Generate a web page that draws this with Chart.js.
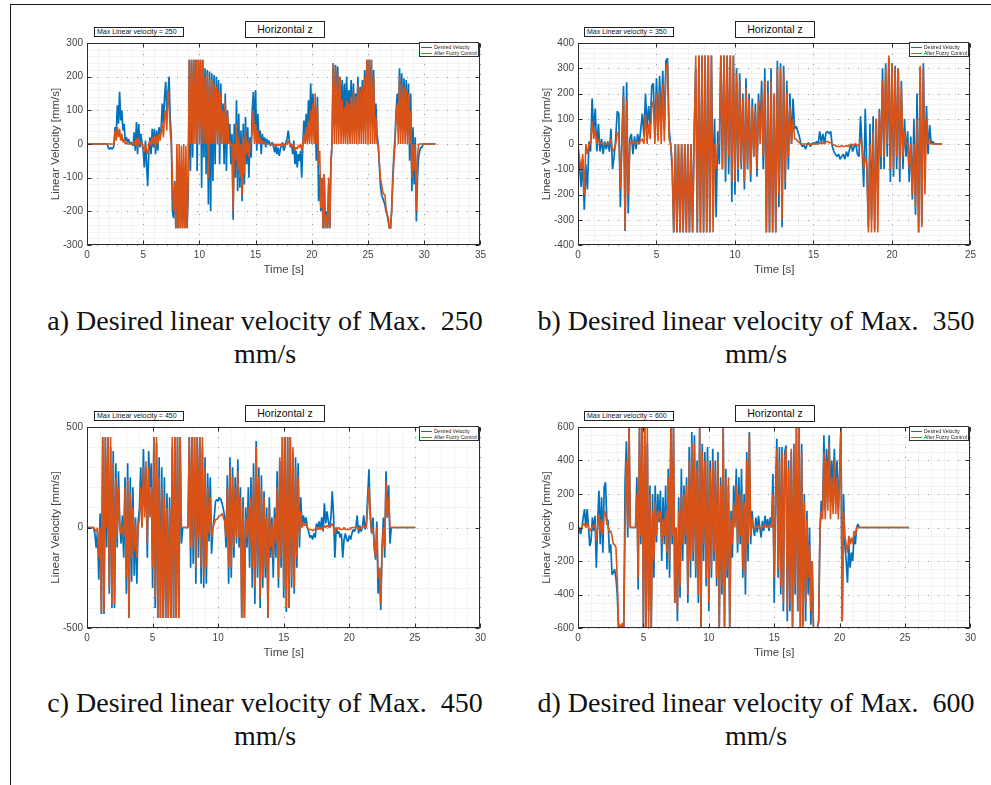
<!DOCTYPE html>
<html><head><meta charset="utf-8">
<script src="https://cdn.jsdelivr.net/npm/chart.js@4.4.1/dist/chart.umd.min.js"></script>
<style>
html,body{margin:0;padding:0;background:#fff;}
body{width:991px;height:785px;position:relative;overflow:hidden;font-family:'Liberation Sans',Arial,sans-serif;}
.frameTop{position:absolute;left:10px;top:4px;width:981px;height:1px;background:#1a1a1a;}
.frameLeft{position:absolute;left:10px;top:4px;width:1px;height:781px;background:#1a1a1a;}
canvas{position:absolute;}
.ttl{position:absolute;width:78px;height:15px;border:1px solid #222;font-size:10.5px;line-height:15px;text-align:center;color:#111;background:#fff;}
.maxb{position:absolute;width:86px;height:8px;border:1px solid #222;font-size:7px;line-height:8px;padding-left:2px;color:#111;background:#fff;white-space:nowrap;}
.leg{position:absolute;width:58px;height:13px;border:1px solid #333;background:#fff;font-size:5px;color:#222;}
.leg div{position:absolute;left:14px;white-space:nowrap;line-height:6px;}
.leg span{position:absolute;left:1px;width:11px;height:1px;}
.cap{position:absolute;width:460px;font-family:'Liberation Serif','Times New Roman',serif;font-size:28px;line-height:33px;text-align:center;color:#111;white-space:nowrap;}
</style>
</head><body>
<div class="frameTop"></div><div class="frameLeft"></div>

<canvas id="cA" width="455" height="248" style="left:35px;top:33px"></canvas>
<canvas id="cB" width="454" height="248" style="left:526px;top:33px"></canvas>
<canvas id="cC" width="455" height="247" style="left:35px;top:417px"></canvas>
<canvas id="cD" width="454" height="247" style="left:526px;top:417px"></canvas>

<div class="ttl" style="left:245px;top:21px">Horizontal z</div>
<div class="ttl" style="left:735px;top:21px">Horizontal z</div>
<div class="ttl" style="left:245px;top:405px">Horizontal z</div>
<div class="ttl" style="left:735px;top:405px">Horizontal z</div>

<div class="maxb" style="left:94px;top:27px">Max Linear velocity = 250</div>
<div class="maxb" style="left:584px;top:27px">Max Linear velocity = 350</div>
<div class="maxb" style="left:94px;top:411px">Max Linear velocity = 450</div>
<div class="maxb" style="left:584px;top:411px">Max Linear velocity = 600</div>

<div class="leg" style="left:419px;top:42px"><span style="top:4px;background:#0072BD"></span><div style="top:1px">Desired Velocity</div><span style="top:10px;background:#D95319"></span><div style="top:7px">After Fuzzy Control</div></div>
<div class="leg" style="left:909px;top:42px"><span style="top:4px;background:#0072BD"></span><div style="top:1px">Desired Velocity</div><span style="top:10px;background:#D95319"></span><div style="top:7px">After Fuzzy Control</div></div>
<div class="leg" style="left:419px;top:426px"><span style="top:4px;background:#0072BD"></span><div style="top:1px">Desired Velocity</div><span style="top:10px;background:#D95319"></span><div style="top:7px">After Fuzzy Control</div></div>
<div class="leg" style="left:909px;top:426px"><span style="top:4px;background:#0072BD"></span><div style="top:1px">Desired Velocity</div><span style="top:10px;background:#D95319"></span><div style="top:7px">After Fuzzy Control</div></div>

<div class="cap" style="left:35px;top:304px">a) Desired linear velocity of Max.&nbsp; 250<br>mm/s</div>
<div class="cap" style="left:526px;top:304px">b) Desired linear velocity of Max.&nbsp; 350<br>mm/s</div>
<div class="cap" style="left:35px;top:686px">c) Desired linear velocity of Max.&nbsp; 450<br>mm/s</div>
<div class="cap" style="left:526px;top:686px">d) Desired linear velocity of Max.&nbsp; 600<br>mm/s</div>

<script>
// ---------------- Panel a (max 250) ----------------
const timeA = [0,
1.0,1.1,1.2,1.3,1.4,1.5,1.6,1.7,1.8,1.9,
2.0,2.1,2.2,2.3,2.4,2.5,2.6,2.7,2.8,2.9,
3.0,3.1,3.2,3.3,3.4,3.5,3.6,3.7,3.8,3.9,
4.0,4.1,4.2,4.3,4.4,4.5,4.6,4.7,4.8,4.9,
5.0,5.1,5.2,5.3,5.4,5.5,5.6,5.7,5.8,5.9,
6.0,6.1,6.2,6.3,6.4,6.5,6.6,6.7,6.8,6.9,
7.0,7.1,7.2,7.3,7.4,7.5,7.6,7.7,7.8,7.9,
8.0,8.1,8.2,8.3,8.4,8.5,8.6,8.7,8.8,8.9,
9.0,9.1,9.2,9.3,9.4,9.5,9.6,9.7,9.8,9.9,
10.0,10.1,10.2,10.3,10.4,10.5,10.6,10.7,10.8,10.9,
11.0,11.1,11.2,11.3,11.4,11.5,11.6,11.7,11.8,11.9,
12.0,12.1,12.2,12.3,12.4,12.5,12.6,12.7,12.8,12.9,
13.0,13.1,13.2,13.3,13.4,13.5,13.6,13.7,13.8,13.9,
14.0,14.1,14.2,14.3,14.4,14.5,14.6,14.7,14.8,14.9,
15.0,15.1,15.2,15.3,15.4,15.5,15.6,15.7,15.8,15.9,
16.0,16.1,16.2,16.3,16.4,16.5,16.6,16.7,16.8,16.9,
17.0,17.1,17.2,17.3,17.4,17.5,17.6,17.7,17.8,17.9,
18.0,18.1,18.2,18.3,18.4,18.5,18.6,18.7,18.8,18.9,
19.0,19.1,19.2,19.3,19.4,19.5,19.6,19.7,19.8,19.9,
20.0,20.1,20.2,20.3,20.4,20.5,20.6,20.7,20.8,20.9,
21.0,21.1,21.2,21.3,21.4,21.5,21.6,21.7,21.8,21.9,
22.0,22.1,22.2,22.3,22.4,22.5,22.6,22.7,22.8,22.9,
23.0,23.1,23.2,23.3,23.4,23.5,23.6,23.7,23.8,23.9,
24.0,24.1,24.2,24.3,24.4,24.5,24.6,24.7,24.8,24.9,
25.0,25.1,25.2,25.3,25.4,25.5,25.6,25.7,25.8,25.9,
26.0,26.1,26.2,26.3,26.4,26.5,26.6,26.7,26.8,26.9,
27.0,27.1,27.2,27.3,27.4,27.5,27.6,27.7,27.8,27.9,
28.0,28.1,28.2,28.3,28.4,28.5,28.6,28.7,28.8,28.9,
29.0,29.1,29.2,29.3,29.4,29.5,29.6,29.7,29.8,29.9,
30.0,31.0];
const desiredA = [0,
0,0,0,0,0,0,0,0,0,-12,
-15,-10,-15,-12,-5,50,30,115,60,155,
70,100,40,60,10,20,5,15,0,5,
0,-5,35,-20,65,-30,60,-10,30,0,
-20,-70,10,-60,-125,-20,20,-30,45,-10,
45,-30,40,-20,50,20,50,120,60,140,
185,90,150,200,80,20,-200,-220,-110,-250,
-100,-250,-60,-250,-100,-250,-90,-250,-130,-250,
-150,250,-80,250,-40,250,60,250,-80,250,
100,250,-130,250,-40,225,-90,220,-180,215,
-200,210,-110,205,-60,200,50,190,-60,180,
30,120,-60,150,-80,100,0,60,-60,30,
-225,60,-100,130,-140,90,-130,40,-170,60,
-120,80,-60,50,-100,20,-40,100,155,30,
160,-20,90,10,40,-30,30,0,20,-10,
15,0,10,-5,0,5,-10,-25,-5,-30,
-10,-35,-15,-5,5,-20,-10,5,15,40,
10,-10,0,-30,10,-60,-20,-70,-30,-50,
-20,-100,0,70,20,90,10,130,30,180,
60,150,40,100,-50,140,-170,-90,-200,-100,
-250,-90,-250,-200,-250,-120,-250,-60,0,240,
60,235,100,230,120,200,90,190,60,180,
70,200,50,160,80,190,40,180,70,150,
100,200,60,170,90,190,50,220,80,250,
60,250,100,250,70,220,40,120,30,0,
-60,-120,-150,-160,-170,-180,-200,-210,-230,-250,
-250,-200,-100,-30,20,100,150,70,225,60,
210,50,195,40,190,30,180,-50,150,-140,
50,-120,20,-230,-100,-40,-20,-10,-10,0,
0,0];
const fuzzyA = [0,
0,0,0,0,0,0,0,0,0,0,
0,0,0,0,0,40,10,50,20,45,
10,30,5,15,0,5,0,0,0,0,
0,0,10,-5,15,-10,20,0,5,0,
-10,-25,0,-20,-30,0,10,-5,20,0,
25,-10,25,0,30,10,35,60,20,80,
100,40,160,120,40,0,-100,-200,-120,-250,
0,-250,0,-250,-5,-250,0,-250,-5,-250,
-100,250,0,250,0,250,0,250,0,250,
0,250,0,250,0,200,0,210,-100,200,
0,190,0,180,0,170,0,160,0,150,
0,100,0,130,0,90,0,10,-5,0,
-200,0,-50,60,-80,20,-100,0,-150,20,
-90,40,-30,10,-40,0,0,40,100,0,
60,0,40,0,20,0,10,0,5,0,
0,0,0,0,0,0,0,-5,0,-5,
0,-5,0,-5,0,-5,0,0,0,10,
0,-5,0,-10,0,-20,-10,-15,-5,-10,
0,-20,0,30,0,50,0,70,0,100,
0,120,0,150,0,110,-60,-20,-190,-100,
-250,-90,-250,-210,-250,-100,-250,-50,0,240,
0,230,0,210,0,200,0,130,0,110,
0,130,0,120,0,140,0,160,0,140,
0,180,0,160,0,170,0,200,0,250,
0,250,0,250,0,200,0,80,0,0,
-50,-100,-120,-140,-150,-150,-190,-210,-220,-250,
-250,-200,-120,-50,0,80,120,0,200,0,
180,0,170,0,160,0,150,0,100,-100,
0,-80,0,-200,-40,0,0,0,0,0,
0,0];

// ---------------- Panel b (max 350) ----------------
const timeB = [
0.0,0.1,0.2,0.3,0.4,0.5,0.6,0.7,0.8,0.9,
1.0,1.1,1.2,1.3,1.4,1.5,1.6,1.7,1.8,1.9,
2.0,2.1,2.2,2.3,2.4,2.5,2.6,2.7,2.8,2.9,
3.0,3.1,3.2,3.3,3.4,3.5,3.6,3.7,3.8,3.9,
4.0,4.1,4.2,4.3,4.4,4.5,4.6,4.7,4.8,4.9,
5.0,5.1,5.2,5.3,5.4,5.5,5.6,5.7,5.8,5.9,
6.0,6.1,6.2,6.3,6.4,6.5,6.6,6.7,6.8,6.9,
7.0,7.1,7.2,7.3,7.4,7.5,7.6,7.7,7.8,7.9,
8.0,8.1,8.2,8.3,8.4,8.5,8.6,8.7,8.8,8.9,
9.0,9.1,9.2,9.3,9.4,9.5,9.6,9.7,9.8,9.9,
10.0,10.1,10.2,10.3,10.4,10.5,10.6,10.7,10.8,10.9,
11.0,11.1,11.2,11.3,11.4,11.5,11.6,11.7,11.8,11.9,
12.0,12.1,12.2,12.3,12.4,12.5,12.6,12.7,12.8,12.9,
13.0,13.1,13.2,13.3,13.4,13.5,13.6,13.7,13.8,13.9,
14.0,14.1,14.2,14.3,14.4,14.5,14.6,14.7,14.8,14.9,
15.0,15.1,15.2,15.3,15.4,15.5,15.6,15.7,15.8,15.9,
16.0,16.1,16.2,16.3,16.4,16.5,16.6,16.7,16.8,16.9,
17.0,17.1,17.2,17.3,17.4,17.5,17.6,17.7,17.8,17.9,
18.0,18.1,18.2,18.3,18.4,18.5,18.6,18.7,18.8,18.9,
19.0,19.1,19.2,19.3,19.4,19.5,19.6,19.7,19.8,19.9,
20.0,20.1,20.2,20.3,20.4,20.5,20.6,20.7,20.8,20.9,
21.0,21.1,21.2,21.3,21.4,21.5,21.6,21.7,21.8,21.9,
22.0,22.1,22.2,22.3,22.4,22.5,22.6,22.7,22.8,22.9,
23.2];
const desiredB = [
-30,-90,-170,-60,-260,-80,-180,10,-30,180,
50,140,-30,80,-30,20,-40,10,-20,10,
-30,60,-100,-50,20,130,120,-250,30,230,
-345,245,-275,20,40,-40,30,-20,40,0,
60,120,30,200,60,150,70,230,240,30,
260,60,270,80,290,60,330,340,60,0,
-100,-350,0,-350,0,-350,0,-350,0,-350,
0,-350,0,-350,50,300,-350,350,-350,350,
-350,350,-350,350,-350,350,-200,100,-290,50,
-80,350,-100,350,-150,350,-120,350,-230,350,
-200,300,-150,280,-100,200,-180,260,-100,200,
-150,180,-50,160,-130,200,50,250,-100,300,
-350,250,-350,300,-350,200,-350,330,-250,320,
-330,310,-180,250,-100,200,0,180,60,70,
50,30,0,-10,-5,-20,0,5,-10,0,
5,0,10,0,50,5,40,0,45,50,
40,50,-10,-30,-40,-50,-40,-60,-50,-40,
-60,-30,-50,-20,0,-30,-10,0,-40,-50,
110,-20,-170,140,-100,-330,80,-300,110,-340,
100,-200,140,-100,300,-100,320,-50,340,-150,
320,-130,310,-100,300,-150,250,-100,100,-50,
50,-150,30,-220,100,-280,200,-350,300,-320,
320,-100,150,-40,75,0,10,0,0,0,
0];
const fuzzyB = [
0,-60,-100,-40,-200,0,-40,0,0,90,
20,60,0,20,0,5,0,0,0,0,
0,20,-30,-20,0,40,50,-180,20,190,
-340,170,-200,0,10,0,10,0,10,0,
15,20,0,120,0,80,20,150,170,0,
200,10,210,0,240,10,300,320,20,0,
-70,-350,0,-350,0,-350,0,-350,0,-350,
0,-350,0,-350,0,350,-350,350,-350,350,
-350,350,-350,350,-350,350,-350,0,-100,0,
0,350,-100,350,-100,350,-50,350,-150,350,
-150,280,-100,250,-80,180,-150,220,-90,180,
-120,150,-50,130,-100,170,0,200,-50,250,
-350,200,-350,250,-350,200,-350,300,-200,300,
-300,280,-150,200,-50,150,0,100,20,20,
10,5,0,0,0,0,0,0,0,0,
0,0,0,0,5,0,5,0,10,10,
5,5,0,-5,-5,-10,-10,-10,-5,-10,
-10,-5,-10,-5,0,-5,0,0,-5,-10,
20,-10,-100,-50,-80,-350,0,-350,50,-350,
100,-350,130,-50,250,-50,300,0,350,-100,
320,-100,300,-50,300,-100,230,-50,50,0,
0,-100,0,-200,0,-250,100,-350,310,-330,
300,-200,100,0,10,0,0,0,0,0,
0];

// ---------------- Panel c (max 450) ----------------
const timeC = [
0.0,0.1,0.2,0.3,0.4,0.5,0.6,0.7,0.8,0.9,
1.0,1.1,1.2,1.3,1.4,1.5,1.6,1.7,1.8,1.9,
2.0,2.1,2.2,2.3,2.4,2.5,2.6,2.7,2.8,2.9,
3.0,3.1,3.2,3.3,3.4,3.5,3.6,3.7,3.8,3.9,
4.0,4.1,4.2,4.3,4.4,4.5,4.6,4.7,4.8,4.9,
5.0,5.1,5.2,5.3,5.4,5.5,5.6,5.7,5.8,5.9,
6.0,6.1,6.2,6.3,6.4,6.5,6.6,6.7,6.8,6.9,
7.0,7.1,7.2,7.3,7.4,7.5,7.6,7.7,7.8,7.9,
8.0,8.1,8.2,8.3,8.4,8.5,8.6,8.7,8.8,8.9,
9.0,9.1,9.2,9.3,9.4,9.5,9.6,9.7,9.8,9.9,
10.0,10.1,10.2,10.3,10.4,10.5,10.6,10.7,10.8,10.9,
11.0,11.1,11.2,11.3,11.4,11.5,11.6,11.7,11.8,11.9,
12.0,12.1,12.2,12.3,12.4,12.5,12.6,12.7,12.8,12.9,
13.0,13.1,13.2,13.3,13.4,13.5,13.6,13.7,13.8,13.9,
14.0,14.1,14.2,14.3,14.4,14.5,14.6,14.7,14.8,14.9,
15.0,15.1,15.2,15.3,15.4,15.5,15.6,15.7,15.8,15.9,
16.0,16.1,16.2,16.3,16.4,16.5,16.6,16.7,16.8,16.9,
17.0,17.1,17.2,17.3,17.4,17.5,17.6,17.7,17.8,17.9,
18.0,18.1,18.2,18.3,18.4,18.5,18.6,18.7,18.8,18.9,
19.0,19.1,19.2,19.3,19.4,19.5,19.6,19.7,19.8,19.9,
20.0,20.1,20.2,20.3,20.4,20.5,20.6,20.7,20.8,20.9,
21.0,21.1,21.2,21.3,21.4,21.5,21.6,21.7,21.8,21.9,
22.0,22.1,22.2,22.3,22.4,22.5,22.6,22.7,22.8,22.9,
23.0,23.1,23.2,25.0];
const desiredC = [
0,0,0,0,0,0,-30,-100,-20,-260,
70,-430,450,-430,450,-100,450,-330,400,-400,
380,-400,320,-100,280,20,-80,60,-150,250,
-330,320,-450,250,-270,200,-240,50,-280,30,
100,300,0,390,100,250,-150,380,200,320,
-300,450,-400,420,-450,350,-450,300,-450,250,
-450,170,-450,150,-450,400,-450,450,-450,450,
-450,450,-80,0,0,0,0,0,450,-200,
450,-180,450,-280,450,-150,450,-280,400,-300,
350,-280,270,-70,250,-130,0,50,130,140,
130,150,140,120,90,50,-100,260,-280,350,
-250,300,-150,250,-80,340,-100,200,-450,150,
-450,100,-100,200,-200,250,-300,320,-380,430,
-250,300,-400,260,-300,180,-250,100,-450,150,
-150,50,-250,100,-150,280,-300,330,-200,450,
-350,450,-420,450,-400,450,-300,370,-330,350,
-200,320,-100,150,0,60,20,50,0,-20,
-50,-40,-60,-30,-50,20,0,30,-10,50,
-20,120,20,80,30,0,50,180,60,-150,
0,-30,-20,-50,-30,-150,-60,-30,-60,-70,
-40,-60,-30,-10,-20,0,60,-30,10,-20,
0,60,-10,20,150,290,50,-30,50,-100,
-160,30,-330,-200,-410,-100,50,-150,280,50,
210,-80,0,0];
const fuzzyC = [
0,0,0,0,0,0,-10,-20,0,-150,
0,-420,450,-420,450,0,450,-300,450,-380,
320,-380,250,-50,200,0,-30,10,-50,200,
-250,240,-450,170,-150,100,-120,20,-150,10,
40,200,0,300,50,330,-80,300,50,200,
-200,450,-350,450,-450,250,-450,200,-450,150,
-450,100,-450,100,-450,450,-450,450,-450,450,
-450,450,0,0,0,0,0,0,450,-100,
450,-100,450,-200,450,-50,450,-200,450,-250,
300,-200,200,-30,150,-50,0,20,40,40,
50,60,60,70,50,30,-50,200,-200,300,
-200,250,-100,200,-50,280,-50,150,-450,100,
-450,50,-50,100,-100,150,-200,250,-300,400,
-200,250,-350,200,-250,150,-200,50,-450,100,
-100,20,-150,50,-80,200,-250,350,-150,450,
-300,450,-400,450,-400,450,-250,400,-300,300,
-150,250,-50,80,0,20,10,20,0,-10,
-10,-10,-15,-10,-10,0,-10,0,-10,0,
-10,10,0,10,5,0,10,20,0,-30,
0,-10,0,-10,-10,-10,0,-10,-10,-10,
-10,-5,0,0,0,0,0,-10,0,-5,
0,10,0,0,100,200,80,-20,0,-80,
-150,0,-250,-200,-380,-100,0,-100,230,50,
150,0,0,0];

// ---------------- Panel d (max 600) ----------------
const timeD = [
0.0,0.1,0.2,0.3,0.4,0.5,0.6,0.7,0.8,0.9,
1.0,1.1,1.2,1.3,1.4,1.5,1.6,1.7,1.8,1.9,
2.0,2.1,2.2,2.3,2.4,2.5,2.6,2.7,2.8,2.9,
3.0,3.1,3.2,3.3,3.4,3.5,3.6,3.7,3.8,3.9,
4.0,4.1,4.2,4.3,4.4,4.5,4.6,4.7,4.8,4.9,
5.0,5.1,5.2,5.3,5.4,5.5,5.6,5.7,5.8,5.9,
6.0,6.1,6.2,6.3,6.4,6.5,6.6,6.7,6.8,6.9,
7.0,7.1,7.2,7.3,7.4,7.5,7.6,7.7,7.8,7.9,
8.0,8.1,8.2,8.3,8.4,8.5,8.6,8.7,8.8,8.9,
9.0,9.1,9.2,9.3,9.4,9.5,9.6,9.7,9.8,9.9,
10.0,10.1,10.2,10.3,10.4,10.5,10.6,10.7,10.8,10.9,
11.0,11.1,11.2,11.3,11.4,11.5,11.6,11.7,11.8,11.9,
12.0,12.1,12.2,12.3,12.4,12.5,12.6,12.7,12.8,12.9,
13.0,13.1,13.2,13.3,13.4,13.5,13.6,13.7,13.8,13.9,
14.0,14.1,14.2,14.3,14.4,14.5,14.6,14.7,14.8,14.9,
15.0,15.1,15.2,15.3,15.4,15.5,15.6,15.7,15.8,15.9,
16.0,16.1,16.2,16.3,16.4,16.5,16.6,16.7,16.8,16.9,
17.0,17.1,17.2,17.3,17.4,17.5,17.6,17.7,17.8,17.9,
18.0,18.1,18.2,18.3,18.4,18.5,18.6,18.7,18.8,18.9,
19.0,19.1,19.2,19.3,19.4,19.5,19.6,19.7,19.8,19.9,
20.0,20.1,20.2,20.3,20.4,20.5,20.6,20.7,20.8,20.9,
21.0,21.1,21.2,21.3,21.4,21.5,21.6,21.7,21.8,21.9,
25.3];
const desiredD = [
0,-10,-40,0,60,110,0,110,10,-110,
-80,60,-20,70,-240,20,220,-100,180,-150,
240,270,50,40,-150,-100,-280,-270,-250,-300,
-400,-600,-600,-600,-580,-600,280,515,-60,600,
0,0,0,0,0,300,-370,600,-100,600,
-600,600,-600,500,-500,250,-600,200,-300,250,
-90,200,30,220,-200,180,-100,250,-250,350,
-300,600,-100,600,-450,0,-560,180,-420,350,
-200,250,-100,300,-450,480,-300,570,-200,550,
-300,400,-450,600,-600,500,-200,450,-350,480,
-500,400,-300,470,-200,400,-350,450,-600,300,
-400,600,-590,350,-300,250,-600,100,-180,250,
50,350,-150,300,-100,350,-300,200,-400,450,
-200,570,-100,100,0,-50,60,-30,70,0,
-60,40,-20,70,0,50,-20,60,0,320,
-450,200,530,-300,480,-400,480,-500,450,490,
-560,400,-500,450,-590,500,-400,600,-500,600,
-600,500,-580,200,-560,100,-400,0,-580,-200,
-600,-600,-600,-600,-560,0,160,100,550,100,
470,200,550,150,400,250,470,150,400,100,
330,600,-560,200,-100,-200,-330,-100,-240,-150,
-200,-50,-100,0,20,0,0,0,0,0,
0];
const fuzzyD = [
0,0,-10,0,20,20,0,30,0,-20,
-10,10,0,20,-80,0,80,-30,50,-40,
100,90,20,10,-30,-20,-50,-100,-100,-120,
-300,-600,-580,-600,-570,-600,0,400,0,600,
0,0,0,0,0,200,-300,600,-50,600,
-600,600,-600,600,-600,200,-600,100,-200,150,
-50,100,50,100,-100,50,-50,100,-150,300,
-200,600,-50,600,-450,0,-500,100,-350,200,
-100,200,-50,250,-400,400,-200,500,-150,500,
-250,350,-400,600,-600,450,-100,400,-300,400,
-450,350,-250,400,-150,350,-300,400,-600,250,
-350,600,-600,300,-250,300,-600,50,-100,150,
0,250,-100,200,-50,200,-250,150,-300,400,
-100,560,-50,50,0,-10,10,0,10,0,
-10,10,0,20,0,10,0,20,0,200,
-300,150,470,-250,400,-350,450,-450,400,470,
-500,350,-450,470,-600,500,-350,600,-500,600,
-600,450,-600,150,-450,50,-300,-100,-500,-200,
-600,-600,-600,-600,-550,0,100,50,450,50,
400,100,500,50,300,80,400,80,300,50,
300,600,-560,100,-50,-100,-150,-50,-100,-60,
-100,-20,-50,0,0,0,0,0,0,0,
0];

// ---------------- Axis settings ----------------
const xMaxA = 35, xMaxB = 25, xMaxC = 30, xMaxD = 30;
const yRangeA = [-300, 300, 100, 20];
const yRangeB = [-400, 400, 100, 20];
const yRangeC = [-500, 500, 500, 100];
const yRangeD = [-600, 600, 200, 50];

const seriesLabels = ['Desired Velocity', 'After Fuzzy Control'];
const BLUE = '#0072BD', ORANGE = '#D95319';

const checks = [[timeA,desiredA,fuzzyA,'A'],[timeB,desiredB,fuzzyB,'B'],[timeC,desiredC,fuzzyC,'C'],[timeD,desiredD,fuzzyD,'D']];
checks.forEach(([t,d,f,n]) => { if (t.length !== d.length || t.length !== f.length) throw new Error('length mismatch '+n+': '+t.length+' '+d.length+' '+f.length); });

const gridBoxPlugin = {
  id: 'gridBox',
  beforeDatasetsDraw(chart) {
    const o = chart.options.plugins.gridBox;
    const {ctx, chartArea: ca} = chart;
    const x = chart.scales.x, y = chart.scales.y;
    ctx.save();
    ctx.lineWidth = 1;
    ctx.strokeStyle = '#f3f3f3';
    ctx.beginPath();
    for (let v = x.min; v <= x.max + 1e-9; v += o.xMinor) {
      const p = Math.round(x.getPixelForValue(v)) + 0.5;
      ctx.moveTo(p, ca.top); ctx.lineTo(p, ca.bottom);
    }
    for (let v = y.min; v <= y.max + 1e-9; v += o.yMinor) {
      const p = Math.round(y.getPixelForValue(v)) + 0.5;
      ctx.moveTo(ca.left, p); ctx.lineTo(ca.right, p);
    }
    ctx.stroke();
    ctx.strokeStyle = '#9a9a9a';
    ctx.setLineDash([1, 9]);
    ctx.beginPath();
    x.ticks.forEach(t => { const p = Math.round(x.getPixelForValue(t.value)) + 0.5; ctx.moveTo(p, ca.bottom); ctx.lineTo(p, ca.top); });
    y.ticks.forEach(t => { const p = Math.round(y.getPixelForValue(t.value)) + 0.5; ctx.moveTo(ca.left, p); ctx.lineTo(ca.right, p); });
    ctx.stroke();
    ctx.restore();
  },
  afterDatasetsDraw(chart) {
    const {ctx, chartArea: ca} = chart;
    const x = chart.scales.x, y = chart.scales.y;
    ctx.save();
    ctx.strokeStyle = '#2b2b2b';
    ctx.lineWidth = 1;
    const L = Math.round(ca.left) + 0.5, R = Math.round(ca.right) - 0.5, T = Math.round(ca.top) + 0.5, B = Math.round(ca.bottom) - 0.5;
    ctx.strokeRect(L, T, R - L, B - T);
    ctx.beginPath();
    x.ticks.forEach(t => { const p = Math.round(x.getPixelForValue(t.value)) + 0.5; ctx.moveTo(p, B); ctx.lineTo(p, B - 4); ctx.moveTo(p, T); ctx.lineTo(p, T + 4); });
    y.ticks.forEach(t => { const p = Math.round(y.getPixelForValue(t.value)) + 0.5; ctx.moveTo(L, p); ctx.lineTo(L + 4, p); ctx.moveTo(R, p); ctx.lineTo(R - 4, p); });
    ctx.stroke();
    ctx.restore();
  }
};

function build(id, time, desired, fuzzy, xMax, yr) {
  const tickFont = {family: "'Liberation Sans', Arial, sans-serif", size: 10};
  const titleFont = {family: "'Liberation Sans', Arial, sans-serif", size: 11.5};
  new Chart(document.getElementById(id), {
    type: 'line',
    data: {
      datasets: [
        {label: seriesLabels[0], data: time.map((t, i) => ({x: t, y: desired[i]})), borderColor: BLUE, backgroundColor: BLUE, borderWidth: 1.7, pointRadius: 0, tension: 0, borderJoinStyle: 'bevel', order: 2},
        {label: seriesLabels[1], data: time.map((t, i) => ({x: t, y: fuzzy[i]})), borderColor: ORANGE, backgroundColor: ORANGE, borderWidth: 1.6, pointRadius: 0, tension: 0, borderJoinStyle: 'bevel', order: 1}
      ]
    },
    options: {
      responsive: false, animation: false, events: [],
      layout: {padding: {left: 0, right: 8, top: 6, bottom: 0}},
      plugins: {legend: {display: false}, tooltip: {enabled: false}, gridBox: {xMinor: 1, yMinor: yr[3]}},
      scales: {
        x: {type: 'linear', min: 0, max: xMax,
            ticks: {stepSize: 5, autoSkip: false, maxRotation: 0, color: '#444', font: tickFont, padding: 4},
            grid: {display: false, drawTicks: false}, border: {display: false},
            title: {display: true, text: 'Time [s]', color: '#444', font: titleFont, padding: {top: 0, bottom: 4}},
            afterFit: s => { s.height = 36; }},
        y: {type: 'linear', min: yr[0], max: yr[1],
            ticks: {stepSize: yr[2], autoSkip: false, color: '#444', font: tickFont, padding: 4},
            grid: {display: false, drawTicks: false}, border: {display: false},
            title: {display: true, text: 'Linear Velocity [mm/s]', color: '#444', font: titleFont, padding: {top: 14, bottom: 0}},
            afterFit: s => { s.width = 52; }}
      }
    },
    plugins: [gridBoxPlugin]
  });
}

build('cA', timeA, desiredA, fuzzyA, xMaxA, yRangeA);
build('cB', timeB, desiredB, fuzzyB, xMaxB, yRangeB);
build('cC', timeC, desiredC, fuzzyC, xMaxC, yRangeC);
build('cD', timeD, desiredD, fuzzyD, xMaxD, yRangeD);
</script>
</body></html>
